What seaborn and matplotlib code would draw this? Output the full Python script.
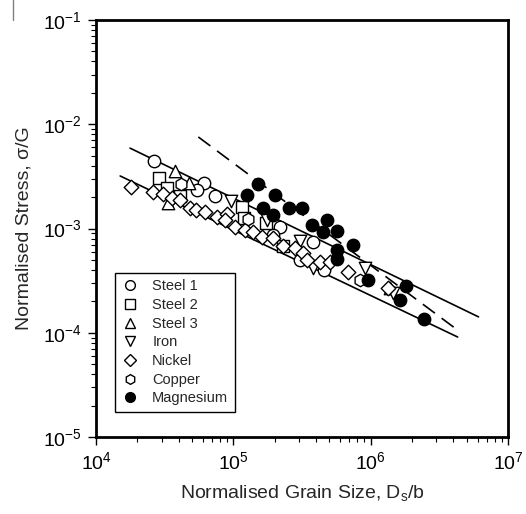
import matplotlib
matplotlib.use("Agg")
import matplotlib.pyplot as plt
import seaborn as sns
import pandas as pd
from matplotlib.lines import Line2D
from matplotlib.ticker import LogLocator, LogFormatterSciNotation, NullFormatter

# ---------------- data ----------------
steel1_x = [2.64e4, 6.1e4, 5.4e4, 7.4e4, 2.19e5, 3.80e5, 3.06e5, 4.57e5, 1.95e5]
steel1_y = [4.44e-3, 2.73e-3, 2.34e-3, 2.05e-3, 1.03e-3, 7.4e-4, 5.0e-4, 4.0e-4, 8.7e-4]

steel2_x = [2.88e4, 3.29e4, 4.09e4, 1.16e5, 1.20e5, 1.73e5, 2.30e5]
steel2_y = [3.05e-3, 2.44e-3, 2.05e-3, 1.61e-3, 1.26e-3, 1.13e-3, 6.8e-4]

steel3_x = [3.76e4, 3.34e4, 4.75e4, 1.38e6]
steel3_y = [3.56e-3, 1.76e-3, 2.73e-3, 2.69e-4]

iron_x = [9.6e4, 1.76e5, 3.06e5, 3.80e5, 9.1e5, 1.46e6]
iron_y = [1.84e-3, 1.21e-3, 7.6e-4, 4.18e-4, 4.18e-4, 2.40e-4]

nickel_x = [1.80e4, 2.60e4, 3.08e4, 3.57e4, 4.09e4, 4.83e4, 5.35e4, 6.22e4, 7.6e4,
            9.0e4, 8.7e4, 1.03e5, 1.22e5, 1.39e5, 1.62e5, 1.95e5, 2.30e5, 2.81e5,
            3.22e5, 3.44e5, 4.28e5, 5.06e5, 6.84e5, 1.34e6]
nickel_y = [2.50e-3, 2.24e-3, 2.14e-3, 1.96e-3, 1.88e-3, 1.57e-3, 1.50e-3, 1.44e-3, 1.29e-3,
            1.38e-3, 1.21e-3, 1.03e-3, 9.7e-4, 9.3e-4, 8.3e-4, 8.1e-4, 6.8e-4, 6.5e-4,
            5.8e-4, 5.0e-4, 4.8e-4, 4.8e-4, 3.83e-4, 2.7e-4]

copper_x = [4.16e4, 1.28e5, 8.4e5]
copper_y = [2.67e-3, 1.23e-3, 3.21e-4]

magnesium_x = [1.51e5, 1.26e5, 2.01e5, 1.64e5, 2.54e5, 1.95e5, 3.16e5, 3.74e5, 4.81e5,
               4.50e5, 5.69e5, 7.43e5, 5.69e5, 5.69e5, 9.6e5, 1.81e6, 1.64e6, 2.44e6]
magnesium_y = [2.67e-3, 2.09e-3, 2.09e-3, 1.57e-3, 1.57e-3, 1.35e-3, 1.57e-3, 1.08e-3, 1.21e-3,
               9.2e-4, 9.5e-4, 6.95e-4, 6.2e-4, 5.1e-4, 3.21e-4, 2.81e-4, 2.06e-4, 1.36e-4]

# fitted lines (end points)
upper_x = [1.77e4, 6.1e6]
upper_y = [5.9e-3, 1.42e-4]
lower_x = [1.50e4, 4.3e6]
lower_y = [3.19e-3, 9.1e-5]
dash_x = [5.56e4, 4.1e6]
dash_y = [7.55e-3, 1.11e-4]

series = [
    ("Steel 1", steel1_x, steel1_y, "o", "white"),
    ("Steel 2", steel2_x, steel2_y, "s", "white"),
    ("Steel 3", steel3_x, steel3_y, "^", "white"),
    ("Iron", iron_x, iron_y, "v", "white"),
    ("Nickel", nickel_x, nickel_y, "D", "white"),
    ("Copper", copper_x, copper_y, "h", "white"),
    ("Magnesium", magnesium_x, magnesium_y, "o", "black"),
]

# ---------------- style ----------------
sns.set_style("ticks")
plt.rcParams["font.family"] = ["Liberation Sans", "DejaVu Sans"]
plt.rcParams["mathtext.default"] = "regular"
plt.rcParams["axes.unicode_minus"] = False

fig = plt.figure(figsize=(5.26, 5.14), dpi=100)
ax = fig.add_axes([96 / 526, 1 - 437 / 514, 412 / 526, 417 / 514])

# fit lines
sns.lineplot(x=upper_x, y=upper_y, ax=ax, color="black", lw=1.2, legend=False)
sns.lineplot(x=lower_x, y=lower_y, ax=ax, color="black", lw=1.2, legend=False)
sns.lineplot(x=dash_x, y=dash_y, ax=ax, color="black", lw=1.2, legend=False,
             dashes=False, linestyle=(0, (9, 5)))

sizes = {"o": 80, "s": 70, "^": 80, "v": 80, "D": 55, "h": 80}
handles = []
for name, xs, ys, mk, fc in series:
    df = pd.DataFrame({"x": xs, "y": ys})
    sns.scatterplot(data=df, x="x", y="y", ax=ax, marker=mk, s=sizes[mk],
                    facecolor=fc, edgecolor="black", linewidth=1.0, zorder=3,
                    legend=False)
    handles.append(Line2D([], [], marker=mk, ls="none", markersize=7 if mk != "D" else 6,
                          markerfacecolor=fc, markeredgecolor="black",
                          markeredgewidth=1.0, label=name))

ax.set_xscale("log")
ax.set_yscale("log")
ax.set_xlim(1e4, 1e7)
ax.set_ylim(1e-5, 1e-1)

ax.xaxis.set_major_locator(LogLocator(base=10, numticks=10))
ax.yaxis.set_major_locator(LogLocator(base=10, numticks=10))
ax.xaxis.set_minor_locator(LogLocator(base=10, subs=range(2, 10), numticks=20))
ax.yaxis.set_minor_locator(LogLocator(base=10, subs=range(2, 10), numticks=20))
ax.xaxis.set_major_formatter(LogFormatterSciNotation())
ax.yaxis.set_major_formatter(LogFormatterSciNotation())
ax.xaxis.set_minor_formatter(NullFormatter())
ax.yaxis.set_minor_formatter(NullFormatter())

ax.tick_params(which="major", direction="out", length=6, width=1.0, labelsize=14,
               color="black", labelcolor="black", pad=4)
ax.tick_params(which="minor", direction="out", length=3.5, width=0.8, color="black")
ax.tick_params(top=False, right=False, which="both")
for sp in ax.spines.values():
    sp.set_visible(True)
    sp.set_linewidth(2.0)
    sp.set_color("black")

ax.set_xlabel("Normalised Grain Size, D$_{s}$/b", fontsize=14, labelpad=7)
ax.set_ylabel("Normalised Stress, \u03c3/G", fontsize=14, labelpad=8)

leg = ax.legend(handles=handles, loc="lower left", bbox_to_anchor=(0.046, 0.06),
                borderaxespad=0, frameon=True, fancybox=False, framealpha=1,
                edgecolor="black", fontsize=10.5, handletextpad=0.9, borderpad=0.45,
                labelspacing=0.32, handlelength=1.2)
leg.get_frame().set_linewidth(1.0)

fig.add_artist(Line2D([13 / 526, 13 / 526], [1.0, 1 - 20 / 514], color="gray", lw=1))

fig.savefig("out.png", dpi=100)
